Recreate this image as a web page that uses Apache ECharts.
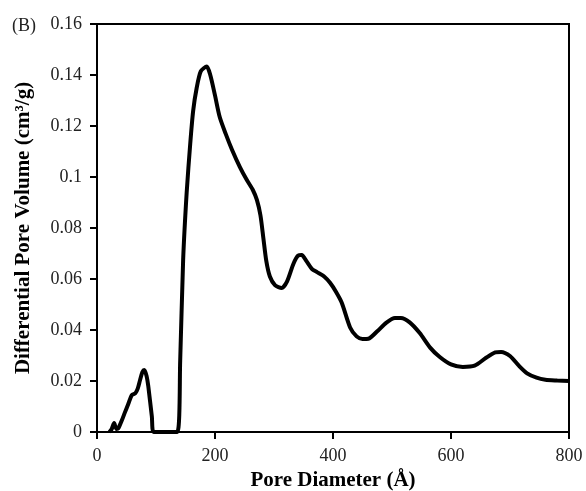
<!DOCTYPE html>
<html>
<head>
<meta charset="utf-8">
<script src="https://cdn.jsdelivr.net/npm/echarts@6/dist/echarts.min.js"></script>
<style>
  html, body { margin: 0; padding: 0; background: #fff; }
  #chart { width: 586px; height: 491px; }
</style>
</head>
<body>
<div id="chart"></div>
<script>
// pore size distribution
var poreDiameter = [21, 25, 29, 33, 36, 42, 47, 53, 59, 65, 69, 73, 77, 80, 84, 87, 93, 96,
  136, 141, 146, 152, 158, 163, 169, 176, 186, 192, 200, 208, 218, 229, 242, 254, 264,
  271, 277, 282, 287, 293, 302, 313, 322, 333, 341, 347, 355, 365, 373, 385, 395, 405, 415,
  429, 440, 450, 460, 475, 490, 505, 515, 530, 547, 565, 581, 600, 620, 640, 660, 675, 685,
  700, 715, 729, 745, 760, 780, 800];
var poreVolume = [0, 0.0012, 0.0035, 0.0012, 0.0014, 0.0045, 0.0075, 0.011, 0.0145, 0.0152, 0.017, 0.0204, 0.0235, 0.0243, 0.022, 0.0178, 0.006, 0,
  0, 0.028, 0.0675, 0.094, 0.113, 0.126, 0.135, 0.1415, 0.1433, 0.14, 0.132, 0.1235, 0.117, 0.1106, 0.104, 0.0988, 0.095,
  0.091, 0.085, 0.076, 0.067, 0.061, 0.0575, 0.0565, 0.059, 0.066, 0.0692, 0.0694, 0.067, 0.0638, 0.0627, 0.061, 0.0585, 0.055, 0.0506,
  0.041, 0.0375, 0.0365, 0.0366, 0.0395, 0.0428, 0.0447, 0.0447, 0.043, 0.0388, 0.033, 0.0294, 0.0265, 0.0255, 0.026, 0.0292, 0.0312, 0.0314,
  0.0298, 0.026, 0.023, 0.0213, 0.0205, 0.0202, 0.02];
var xTicks = { min: 0, max: 800, step: 200 };
var yTicks = { min: 0, max: 0.16, step: 0.02 };

var serif = '"Liberation Serif", "DejaVu Serif", serif';
var data = poreDiameter.map(function (d, i) { return [d, poreVolume[i]]; });

var chart = echarts.init(document.getElementById('chart'));
chart.setOption({
  animation: false,
  backgroundColor: '#fff',
  grid: {
    left: 97, right: 17, top: 24, bottom: 59,
    outerBoundsMode: 'none',
    show: true, borderColor: '#000', borderWidth: 2
  },
  graphic: [{
    type: 'text', left: 12, top: 17,
    style: { text: '(B)', font: '18px ' + serif, fill: '#222' }
  }],
  xAxis: {
    type: 'value',
    min: xTicks.min, max: xTicks.max, interval: xTicks.step,
    name: 'Pore Diameter (Å)',
    nameLocation: 'middle',
    nameGap: 38,
    nameTextStyle: { fontFamily: serif, fontWeight: 'bold', fontSize: 21, color: '#000' },
    axisLine: { lineStyle: { color: '#000', width: 2 } },
    axisTick: { length: 7, lineStyle: { color: '#000', width: 2 } },
    axisLabel: { fontFamily: serif, fontSize: 18, color: '#222', margin: 15 },
    splitLine: { show: false }
  },
  yAxis: {
    type: 'value',
    min: yTicks.min, max: yTicks.max, interval: yTicks.step,
    name: 'Differential Pore Volume (cm³/g)',
    nameLocation: 'middle',
    nameGap: 63,
    nameTextStyle: { fontFamily: serif, fontWeight: 'bold', fontSize: 21, color: '#000' },
    axisLine: { lineStyle: { color: '#000', width: 2 } },
    axisTick: { length: 7, lineStyle: { color: '#000', width: 2 } },
    axisLabel: {
      fontFamily: serif, fontSize: 18, color: '#222', margin: 15,
      formatter: function (v) { return String(+v.toFixed(2)); }
    },
    splitLine: { show: false }
  },
  series: [{
    type: 'line',
    data: data,
    smooth: 0.25,
    showSymbol: false,
    lineStyle: { color: '#000', width: 4 },
    z: 3
  }]
});
</script>
</body>
</html>
